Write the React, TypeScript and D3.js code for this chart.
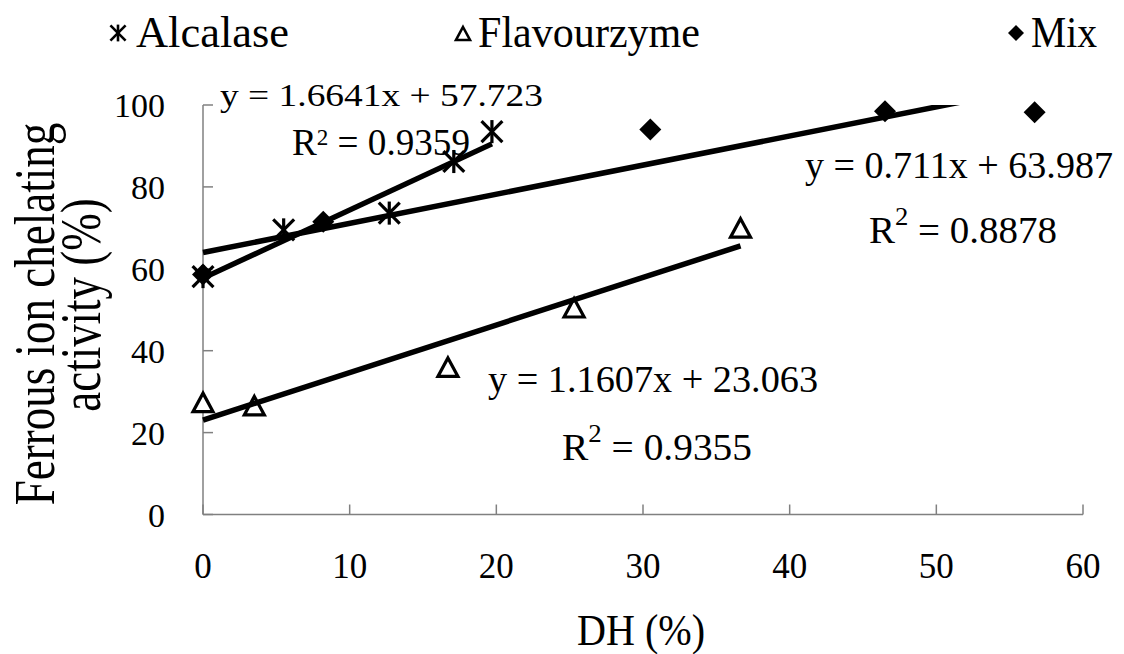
import React from "react";
import * as d3 from "d3";

// Degree of hydrolysis (%) and ferrous ion chelating activity (%) per hydrolysate
const alcalaseDH = [0, 5.5, 12.7, 17.1, 19.7];
const alcalaseAct = [58.1, 69.5, 73.6, 86.2, 93.5];
const flavourzymeDH = [0, 3.5, 16.7, 25.3, 36.65];
const flavourzymeAct = [27.2, 26.4, 35.8, 50.3, 69.8];
const mixDH = [0, 8.2, 30.5, 46.5, 56.7];
const mixAct = [58.6, 71.5, 94.0, 98.5, 98.2];

// Linear trendline coefficients: [slope, intercept, R²]
const alcalaseFit = [1.6641, 57.723, 0.9359];
const flavourzymeFit = [1.1607, 23.063, 0.9355];
const mixFit = [0.711, 63.987, 0.8878];

const xTicks = [0, 10, 20, 30, 40, 50, 60];
const yTicks = [0, 20, 40, 60, 80, 100];

const FONT = "'Liberation Serif', 'Times New Roman', serif";
const W = 1124;
const H = 654;

const x = d3.scaleLinear().domain([0, 60]).range([203, 1083]);
const y = d3.scaleLinear().domain([0, 100]).range([514.5, 105]);

function trendPath(fit: number[], xs: number[]) {
  const x0 = d3.min(xs) as number;
  const x1 = d3.max(xs) as number;
  return d3
    .line<number>()
    .x((d) => x(d))
    .y((d) => y(fit[0] * d + fit[1]))([x0, x1]) as string;
}

function Asterisk({ cx, cy, r = 11, sw = 3.2 }: { cx: number; cy: number; r?: number; sw?: number }) {
  const a = r * 0.95;
  return (
    <g transform={`translate(${cx},${cy})`} stroke="#000" strokeWidth={sw} strokeLinecap="butt">
      <line x1={-a} y1={-a} x2={a} y2={a} />
      <line x1={-a} y1={a} x2={a} y2={-a} />
      <line x1={0} y1={-r * 1.05} x2={0} y2={r * 1.05} />
    </g>
  );
}

function Triangle({ cx, cy, r = 10, sw = 3.2 }: { cx: number; cy: number; r?: number; sw?: number }) {
  return (
    <path
      d={`M0,${-r}L${r},${r * 0.85}L${-r},${r * 0.85}Z`}
      transform={`translate(${cx},${cy})`}
      fill="#fff"
      stroke="#000"
      strokeWidth={sw}
      strokeLinejoin="miter"
    />
  );
}

function Diamond({ cx, cy, r = 11 }: { cx: number; cy: number; r?: number }) {
  return (
    <path
      d={`M0,${-r}L${r},0L0,${r}L${-r},0Z`}
      transform={`translate(${cx},${cy})`}
      fill="#000"
    />
  );
}

function RSquared({ x0, y0, value, size, supSize, supDy, width }: any) {
  return (
    <text x={x0} y={y0} fontFamily={FONT} fontSize={size} textLength={width} lengthAdjust="spacingAndGlyphs">
      R
      <tspan fontSize={supSize} dy={-supDy}>
        2
      </tspan>
      <tspan dy={supDy}>{` = ${value}`}</tspan>
    </text>
  );
}

export default function App() {
  const tickLen = 10;
  return (
    <svg
      width={W}
      height={H}
      style={{ position: "absolute", left: 0, top: 0, background: "#fff" }}
      fontFamily={FONT}
    >
      <defs>
        <clipPath id="plotArea">
          <rect x={x(0) - 20} y={y(100)} width={x(60) - x(0) + 40} height={y(0) - y(100) + 20} />
        </clipPath>
      </defs>
      <rect width={W} height={H} fill="#fff" />

      {/* axes */}
      <g stroke="#808080" strokeWidth={1.5}>
        <line x1={x(0)} y1={y(0)} x2={x(0)} y2={y(100)} />
        <line x1={x(0)} y1={y(0)} x2={x(60)} y2={y(0)} />
        {yTicks.map((t) => (
          <line key={`yt${t}`} x1={x(0)} x2={x(0) + tickLen} y1={y(t)} y2={y(t)} />
        ))}
        {xTicks.map((t) => (
          <line key={`xt${t}`} x1={x(t)} x2={x(t)} y1={y(0)} y2={y(0) - tickLen} />
        ))}
      </g>

      {yTicks.map((t) => (
        <text key={`yl${t}`} x={165} y={y(t) + 12} fontSize={34} textAnchor="end">
          {t}
        </text>
      ))}
      {xTicks.map((t) => (
        <text key={`xl${t}`} x={x(t)} y={578} fontSize={35} textAnchor="middle">
          {t}
        </text>
      ))}

      <text x={641} y={645} fontSize={44} textAnchor="middle" textLength={128} lengthAdjust="spacingAndGlyphs">
        DH (%)
      </text>
      <g transform="translate(54,314) scale(1.25,1) rotate(-90)">
        <text x={0} y={0} fontSize={45} textAnchor="middle">
          Ferrous ion chelating
        </text>
      </g>
      <g transform="translate(100,305) scale(1.25,1) rotate(-90)">
        <text x={0} y={0} fontSize={45} textAnchor="middle">
          activity (%)
        </text>
      </g>

      {/* markers */}
      {mixDH.map((d, i) => (
        <Diamond key={`m${i}`} cx={x(d)} cy={y(mixAct[i])} />
      ))}
      {alcalaseDH.map((d, i) => (
        <Asterisk key={`a${i}`} cx={x(d)} cy={y(alcalaseAct[i])} />
      ))}
      {flavourzymeDH.map((d, i) => (
        <Triangle key={`f${i}`} cx={x(d)} cy={y(flavourzymeAct[i])} />
      ))}

      {/* linear trendlines, clipped to the plot area */}
      <g fill="none" stroke="#000" strokeWidth={5.5} clipPath="url(#plotArea)">
        <path d={trendPath(alcalaseFit, alcalaseDH)} />
        <path d={trendPath(flavourzymeFit, flavourzymeDH)} />
        <path d={trendPath(mixFit, mixDH)} />
      </g>

      {/* trendline equations */}
      <text x={220} y={106} fontSize={31} textLength={323} lengthAdjust="spacingAndGlyphs">
        {`y = ${alcalaseFit[0]}x + ${alcalaseFit[1]}`}
      </text>
      <RSquared x0={292} y0={155} value={alcalaseFit[2]} size={37} supSize={23} supDy={10} width={178} />

      <text x={488} y={392} fontSize={37} textLength={330} lengthAdjust="spacingAndGlyphs">
        {`y = ${flavourzymeFit[0]}x + ${flavourzymeFit[1]}`}
      </text>
      <RSquared x0={562} y0={460} value={flavourzymeFit[2]} size={38} supSize={26} supDy={18} width={190} />

      <text x={805} y={178} fontSize={37} textLength={308} lengthAdjust="spacingAndGlyphs">
        {`y = ${mixFit[0]}x + ${mixFit[1]}`}
      </text>
      <RSquared x0={869} y0={243} value={mixFit[2]} size={38} supSize={26} supDy={18} width={188} />

      {/* legend */}
      <Asterisk cx={118} cy={33} r={8} sw={2.6} />
      <text x={136} y={47} fontSize={45} textLength={153} lengthAdjust="spacingAndGlyphs">
        Alcalase
      </text>
      <Triangle cx={463} cy={34} r={7} sw={2.6} />
      <text x={478} y={47} fontSize={45} textLength={222} lengthAdjust="spacingAndGlyphs">
        Flavourzyme
      </text>
      <Diamond cx={1016} cy={33} r={8} />
      <text x={1031} y={47} fontSize={45} textLength={66} lengthAdjust="spacingAndGlyphs">
        Mix
      </text>
    </svg>
  );
}
